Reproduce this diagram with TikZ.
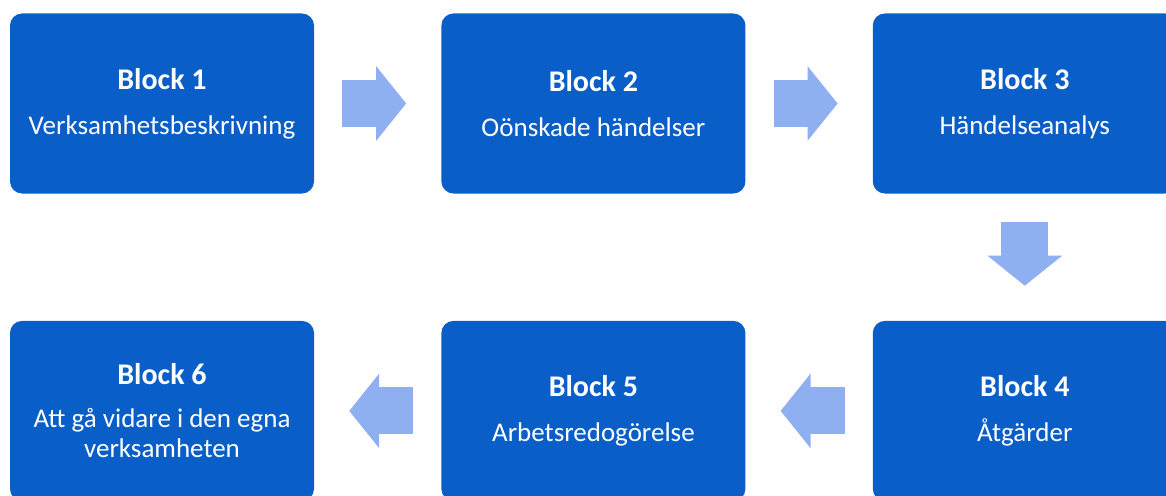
\documentclass[tikz,border=0pt]{standalone}
\usepackage{fontspec}
\setmainfont{Carlito}
\usetikzlibrary{arrows.meta,positioning}
\definecolor{blockblue}{RGB}{10,94,200}
\definecolor{arrowblue}{RGB}{143,176,240}
\newcommand{\blocktitle}[1]{{\fontsize{30}{32}\selectfont\bfseries #1}}
\tikzset{
  block/.style={fill=blockblue, rounded corners=12pt, minimum width=304pt, minimum height=180pt,
    text=white, align=center, inner sep=0pt, font=\fontsize{27}{30}\selectfont},
  flow/.style={arrowblue, line width=47pt, -{Triangle[length=30pt,width=73pt]}},
}
\begin{document}
\begin{tikzpicture}[x=1pt,y=-1pt, node distance=127pt]
\useasboundingbox (0,0) rectangle (1166,495);

\node[block] (b1) at (162,103.5) {\blocktitle{Block 1}\\[15pt]Verksamhetsbeskrivning};
\node[block, right=of b1] (b2) {\blocktitle{Block 2}\\[15pt]Oönskade händelser};
\node[block, right=of b2] (b3) {\blocktitle{Block 3}\\[15pt]Händelseanalys};
\node[block, below=of b3] (b4) {\blocktitle{Block 4}\\[15pt]Åtgärder};
\node[block, left=of b4] (b5) {\blocktitle{Block 5}\\[15pt]Arbetsredogörelse};
\node[block, left=of b5] (b6) {\blocktitle{Block 6}\\[13pt]Att gå vidare i den egna\\verksamheten};

% steps
\draw[flow] ([xshift=28pt]b1.east) -- ([xshift=-35pt]b2.west);
\draw[flow] ([xshift=28pt]b2.east) -- ([xshift=-35pt]b3.west);
\draw[flow] ([yshift=-28pt]b3.south) -- ([yshift=35pt]b4.north);
\draw[flow] ([xshift=-28pt]b4.west) -- ([xshift=35pt]b5.east);
\draw[flow] ([xshift=-28pt]b5.west) -- ([xshift=35pt]b6.east);
\end{tikzpicture}
\end{document}
